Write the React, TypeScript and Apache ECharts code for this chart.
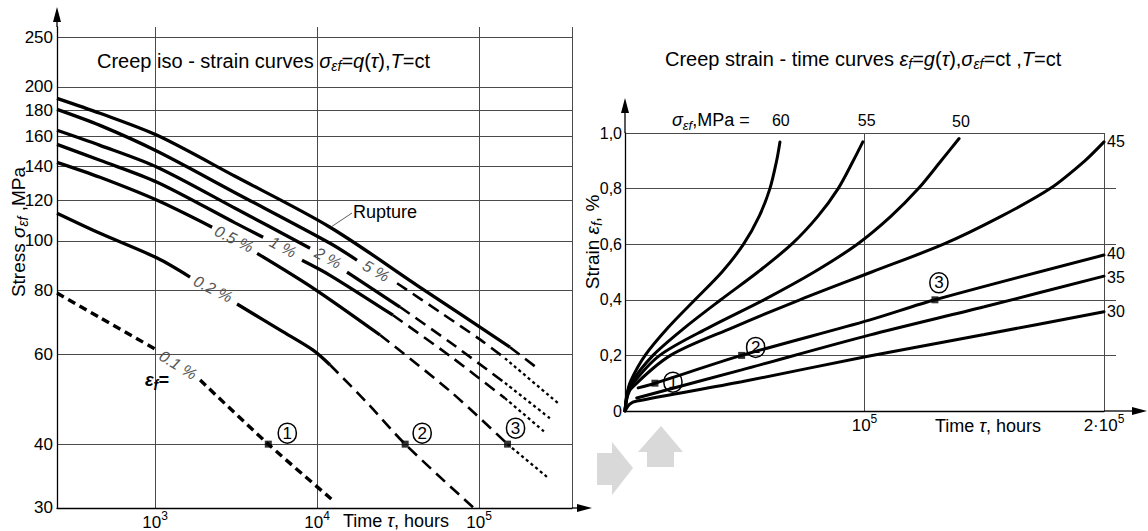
import React, { useEffect, useRef } from 'react';
import * as echarts from 'echarts';

const FONT = '"Liberation Sans", Arial, sans-serif';
const NARROW = '"Liberation Sans Narrow", "Liberation Sans", Arial, sans-serif';

// ---------- Left chart: creep iso-strain curves (time h, stress MPa) ----------
const leftTimeRange = [248, 375000];
const leftStressRange = [30, 262];
const leftTimeTicks = [1000, 10000, 100000];
const leftTimeLines = [1000, 10000, 100000, 374990];
const leftStressTicks = [30.0001, 40, 60, 80, 100, 120, 140, 160, 180, 200, 250];

const ruptureSolid = [[248, 190], [457, 177.6], [1030, 160.8], [3119, 133.7], [12030, 106.3], [43240, 81.1], [155300, 61.9]];
const ruptureDashed = [[155300, 61.9], [238300, 55.8]];

const strain5Solid = [[248, 180.8], [457, 168.2], [1030, 149.7], [3119, 124.2], [12030, 98.9], [17650, 91.6]];
const strain5Dashed = [[31190, 82.6], [57440, 72.5], [102800, 63.9], [144600, 58.9]];
const strain5Dotted = [[144600, 58.9], [307600, 48.1]];

const strain2SolidA = [[248, 164.5], [457, 153.7], [1030, 139.3], [3119, 115.8], [9051, 96.7]];
const strain2SolidB = [[15310, 86.8], [32530, 74.2]];
const strain2Dashed = [[32530, 74.2], [66220, 63.3], [144600, 52.7]];
const strain2Dotted = [[144600, 52.7], [282500, 44.6]];

const strain1SolidA = [[248, 154.4], [457, 143.7], [1030, 130.2], [3119, 108.4], [4645, 101.6]];
const strain1SolidB = [[8076, 91.6], [12030, 85.6], [29440, 71.5]];
const strain1Dashed = [[29440, 71.5], [66220, 59.5], [144600, 49.2]];
const strain1Dotted = [[144600, 49.2], [255400, 42.2]];

const strain05SolidA = [[248, 142.4], [457, 133.1], [1030, 120], [2249, 106.3]];
const strain05SolidB = [[4266, 94.5], [9450, 80.8], [24480, 65.4]];
const strain05Dashed = [[24480, 65.4], [66220, 50.8], [150000, 40]];
const strain05Dotted = [[150000, 40], [263000, 34.5]];

const strain02SolidA = [[248, 113.2], [457, 103.4], [1030, 92.5], [1644, 84.9]];
const strain02SolidB = [[3206, 75.2], [6000, 66.7], [9450, 61.1], [12000, 57.2]];
const strain02Dashed = [[12000, 57.2], [20000, 48.5], [35000, 40], [91840, 30.1]];

const strain01A = [[248, 79], [457, 70.7], [1030, 61.1]];
const strain01B = [[1897, 53.4], [5000, 40], [12920, 30.8]];

const leftMarkers = [[5000, 40], [35000, 40], [150000, 40]];
const markerNames = ['1', '2', '3'];

// ---------- Right chart: creep strain-time curves (time h, strain %) ----------
const stressLevels = ['60', '55', '50', '45', '40', '35', '30'];
const creep60 = [[0, 0], [800, 0.06], [2500, 0.11], [8400, 0.2], [18000, 0.3], [29200, 0.4], [40500, 0.5], [49500, 0.6], [56000, 0.7], [60500, 0.8], [63300, 0.9], [64700, 0.968]];
const creep55 = [[0, 0], [800, 0.055], [2500, 0.1], [11700, 0.2], [25000, 0.3], [40000, 0.4], [55500, 0.5], [69600, 0.6], [80500, 0.7], [89000, 0.8], [95300, 0.9], [99300, 0.968]];
const creep50 = [[0, 0], [800, 0.05], [2500, 0.09], [14500, 0.2], [35000, 0.3], [58000, 0.4], [79000, 0.5], [97000, 0.6], [111000, 0.7], [122500, 0.8], [132000, 0.9], [139500, 0.98]];
const creep45 = [[0, 0], [800, 0.045], [2500, 0.08], [19000, 0.2], [45000, 0.3], [73000, 0.4], [103000, 0.5], [133000, 0.6], [157000, 0.7], [177500, 0.8], [192000, 0.9], [200000, 0.968]];
const creep40 = [[5500, 0.083], [12500, 0.1], [48700, 0.2], [102000, 0.327], [129400, 0.4], [200000, 0.561]];
const creep35 = [[4900, 0.047], [48700, 0.148], [102000, 0.273], [150000, 0.375], [200000, 0.485]];
const creep30 = [[0, 0], [2000, 0.025], [5000, 0.036], [48700, 0.105], [102000, 0.198], [150000, 0.275], [200000, 0.357]];
const rightMarkers = [[12500, 0.1], [48700, 0.2], [129400, 0.4]];
const rightStubStrains = [0.2, 0.4, 0.6, 0.8];

const BLACK = '#000';
const GRIDC = '#4a4a4a';

type Kind = 'solid' | 'dash' | 'dot' | 'short';

function seg(data: number[][], kind: Kind, idx: number) {
  const type: any = kind === 'solid' ? 'solid' : kind === 'dash' ? [12, 7] : kind === 'dot' ? [3, 3] : [8, 5];
  const width = kind === 'solid' ? 3.3 : kind === 'dot' ? 2.3 : kind === 'short' ? 3.4 : 2.6;
  return {
    type: 'line', xAxisIndex: idx, yAxisIndex: idx, data, showSymbol: false, symbol: 'none',
    smooth: 0.3, silent: true, z: 3,
    lineStyle: { color: BLACK, width, type, cap: 'butt' },
  };
}

const subRich = (size: number) => ({
  it: { fontStyle: 'italic', fontSize: size, lineHeight: 24, fontFamily: FONT, fill: BLACK },
  sub: { fontStyle: 'italic', fontSize: Math.round(size * 0.72), lineHeight: 12, verticalAlign: 'bottom', fontFamily: FONT, fill: BLACK },
  b: { fontWeight: 'bold', fontStyle: 'italic', fontSize: size, lineHeight: 24, fontFamily: FONT, fill: BLACK },
  bs: { fontWeight: 'bold', fontStyle: 'italic', fontSize: Math.round(size * 0.75), lineHeight: 12, verticalAlign: 'bottom', fontFamily: FONT, fill: BLACK },
});

function gText(x: number, y: number, text: string, size: number, extra: any = {}, styleExtra: any = {}) {
  return {
    type: 'text', x, y, silent: true, z: 10, ...extra,
    style: { text, fontSize: size, fontFamily: FONT, fill: BLACK, lineHeight: 24, verticalAlign: 'middle', align: 'left', rich: subRich(size), ...styleExtra },
  };
}

function curveLabel(x: number, y: number, text: string, rot: number) {
  return {
    type: 'text', x, y, rotation: rot, silent: true, z: 10,
    style: { text, fontSize: 16, fontStyle: 'italic', fontFamily: FONT, fill: '#555', align: 'center', verticalAlign: 'middle' },
  };
}

function buildOption() {
  const leftSeries = [
    seg(ruptureSolid, 'solid', 0), seg(ruptureDashed, 'dash', 0),
    seg(strain5Solid, 'solid', 0), seg(strain5Dashed, 'dash', 0), seg(strain5Dotted, 'dot', 0),
    seg(strain2SolidA, 'solid', 0), seg(strain2SolidB, 'solid', 0), seg(strain2Dashed, 'dash', 0), seg(strain2Dotted, 'dot', 0),
    seg(strain1SolidA, 'solid', 0), seg(strain1SolidB, 'solid', 0), seg(strain1Dashed, 'dash', 0), seg(strain1Dotted, 'dot', 0),
    seg(strain05SolidA, 'solid', 0), seg(strain05SolidB, 'solid', 0), seg(strain05Dashed, 'dash', 0), seg(strain05Dotted, 'dot', 0),
    seg(strain02SolidA, 'solid', 0), seg(strain02SolidB, 'solid', 0), seg(strain02Dashed, 'dash', 0),
    seg(strain01A, 'short', 0), seg(strain01B, 'short', 0),
  ];

  const leftOffsets = [[19, -11], [17, -11], [8, -16]];
  const rightOffsets = [[18, -1], [14, -8], [4, -17]];
  const markerSeries = (data: number[][], idx: number, offs: number[][]) => ({
    type: 'scatter', xAxisIndex: idx, yAxisIndex: idx, symbol: 'rect', symbolSize: 7, silent: true, z: 5,
    itemStyle: { color: BLACK },
    data: data.map((d, i) => ({
      value: d,
      label: {
        show: true, formatter: markerNames[i], position: 'inside', offset: offs[i],
        fontSize: 17, fontFamily: FONT, color: BLACK, width: 18, height: 20, lineHeight: 20,
        textBorderWidth: 0, opacity: 1,
        align: 'center', verticalAlign: 'middle', borderColor: BLACK, borderWidth: 1.5, borderRadius: 10,
      },
    })),
  });

  const endOffsets: Record<string, number[]> = {
    '60': [-8, -21], '55': [-5, -21], '50': [-7, -17], '45': [3, 0], '40': [3, -2], '35': [3, 1], '30': [3, 0],
  };
  const rightCurves = [creep60, creep55, creep50, creep45, creep40, creep35, creep30];
  const rightSeries = rightCurves.map((data, i) => ({
    type: 'line', name: stressLevels[i], xAxisIndex: 1, yAxisIndex: 1, data, showSymbol: false, symbol: 'none',
    smooth: 0.3, silent: true, z: 3,
    lineStyle: { color: BLACK, width: 3, cap: 'round' },
    endLabel: {
      show: true, formatter: stressLevels[i], distance: 0, offset: endOffsets[stressLevels[i]],
      fontSize: 16, fontFamily: NARROW, color: BLACK,
    },
  }));

  // short extensions of the right-hand horizontal grid lines, positioned by the y scale
  const stubSeries = {
    type: 'line', xAxisIndex: 1, yAxisIndex: 1, data: [], silent: true,
    markLine: {
      silent: true, symbol: 'none', label: { show: false },
      lineStyle: { color: GRIDC, width: 1, type: 'solid' },
      data: rightStubStrains.map((s) => [
        { coord: [200000, s] },
        { coord: [200000, s], x: 1116 },
      ]),
    },
  };

  const supRich = { sup: { fontSize: 12, lineHeight: 12, verticalAlign: 'top', fontFamily: FONT, color: BLACK } };

  const arrow = (pts: number[][]) => ({ type: 'polygon', silent: true, z: 10, shape: { points: pts }, style: { fill: BLACK } });
  const ln = (x1: number, y1: number, x2: number, y2: number, w = 1.3, c = BLACK) => ({
    type: 'line', silent: true, z: 10, shape: { x1, y1, x2, y2 }, style: { stroke: c, lineWidth: w },
  });

  return {
    animation: false,
    backgroundColor: '#fff',
    grid: [
      { left: 57, top: 27, width: 515, height: 481, outerBoundsMode: 'none' },
      { left: 625, top: 133, width: 479, height: 278, outerBoundsMode: 'none' },
    ],
    xAxis: [
      {
        type: 'log', gridIndex: 0, min: leftTimeRange[0], max: leftTimeRange[1], logBase: 10,
        axisLine: { show: true, lineStyle: { color: BLACK, width: 1.3 } },
        axisTick: { show: false, customValues: leftTimeLines },
        axisLabel: {
          customValues: leftTimeTicks, margin: 2, fontSize: 17, lineHeight: 24, fontFamily: FONT, color: BLACK,
          formatter: (v: number) => '10{sup|' + Math.round(Math.log10(v)) + '}', rich: supRich,
        },
        splitLine: { show: true, lineStyle: { color: GRIDC, width: 1 } },
      },
      {
        type: 'value', gridIndex: 1, min: 0, max: 200000, interval: 100000,
        axisLine: { show: true, lineStyle: { color: BLACK, width: 1.3 } },
        axisTick: { show: false },
        axisLabel: {
          margin: 2, fontSize: 17, lineHeight: 24, fontFamily: FONT, color: BLACK, showMinLabel: false,
          formatter: (v: number) => (v === 100000 ? '10{sup|5}' : v === 200000 ? '2·10{sup|5}' : ''), rich: supRich,
        },
        splitLine: { show: true, lineStyle: { color: GRIDC, width: 1 } },
      },
    ],
    yAxis: [
      {
        type: 'log', gridIndex: 0, min: leftStressRange[0], max: leftStressRange[1], logBase: 10,
        axisLine: { show: true, lineStyle: { color: BLACK, width: 1.3 } },
        axisTick: { show: false, customValues: leftStressTicks },
        axisLabel: {
          customValues: leftStressTicks, margin: 4, fontSize: 17, fontFamily: NARROW, color: BLACK,
          formatter: (v: number) => String(Math.round(v)),
        },
        splitLine: { show: true, lineStyle: { color: GRIDC, width: 1 } },
      },
      {
        type: 'value', gridIndex: 1, min: 0, max: 1, interval: 0.2,
        axisLine: { show: true, lineStyle: { color: BLACK, width: 1.3 } },
        axisTick: { show: false },
        axisLabel: {
          margin: 3, fontSize: 16, fontFamily: NARROW, color: BLACK,
          formatter: (v: number) => (v === 0 ? '0' : v.toFixed(1).replace('.', ',')),
        },
        splitLine: { show: true, lineStyle: { color: GRIDC, width: 1 } },
      },
    ],
    series: [
      ...leftSeries,
      markerSeries(leftMarkers, 0, leftOffsets),
      ...rightSeries,
      markerSeries(rightMarkers, 1, rightOffsets),
      stubSeries,
    ],
    graphic: [
      // axis extensions and arrow heads
      ln(57, 27, 57, 18), arrow([[57, 7], [53, 22], [61, 22]]),
      ln(572, 508, 580, 508), arrow([[592, 508], [577, 504], [577, 512]]),
      ln(625, 133, 625, 110), arrow([[625, 98], [621, 113], [629, 113]]),
      ln(1104, 411, 1135, 411), arrow([[1147, 411], [1132, 407], [1132, 415]]),
      // grey decorative block arrows
      { type: 'polygon', silent: true, shape: { points: [[597, 453], [612, 453], [612, 442], [633, 468], [612, 495], [612, 485], [597, 485]] }, style: { fill: '#d9d9d9' } },
      { type: 'polygon', silent: true, shape: { points: [[647, 467], [647, 452], [638, 452], [661, 426], [683, 452], [674, 452], [674, 467]] }, style: { fill: '#d9d9d9' } },
      // titles
      gText(97, 61, 'Creep iso - strain curves {it|σ}{sub|εf}={it|q}({it|τ}),{it|T}=ct', 20),
      gText(665, 59, 'Creep strain - time curves {it|ε}{sub|f}={it|g}({it|τ}),{it|σ}{sub|εf}=ct ,{it|T}=ct', 20),
      // axis names
      gText(18, 232, 'Stress {it|σ}{sub|εf} ,MPa', 19, { rotation: Math.PI / 2 }, { align: 'center' }),
      gText(592, 242, 'Strain {it|ε}{sub|f}, %', 19, { rotation: Math.PI / 2 }, { align: 'center' }),
      gText(343, 521, 'Time {it|τ}, hours', 18),
      gText(935, 426, 'Time {it|τ}, hours', 18),
      gText(672, 120, '{it|σ}{sub|εf},MPa =', 18),
      // rupture label and leader
      gText(353, 212, 'Rupture', 18),
      ln(331, 227, 352, 213, 0.8, '#333'),
      // iso-strain labels
      curveLabel(234, 239, '0.5 %', -0.46),
      curveLabel(283, 247, '1 %', -0.48),
      curveLabel(328, 258, '2 %', -0.5),
      curveLabel(376, 271, '5 %', -0.52),
      curveLabel(213, 289, '0.2 %', -0.46),
      curveLabel(178, 365, '0.1 %', -0.55),
      gText(145, 380, '{b|ε}{bs|f}{b|=}', 18),
    ],
  };
}

export default function App() {
  const ref = useRef<HTMLDivElement>(null);
  useEffect(() => {
    if (!ref.current) return;
    const chart = echarts.init(ref.current, undefined, { renderer: 'svg' });
    chart.setOption(buildOption() as any);
    return () => chart.dispose();
  }, []);
  return (
    <div
      ref={ref}
      style={{ position: 'fixed', left: 0, top: 0, width: 1148, height: 531, background: '#fff' }}
    />
  );
}
